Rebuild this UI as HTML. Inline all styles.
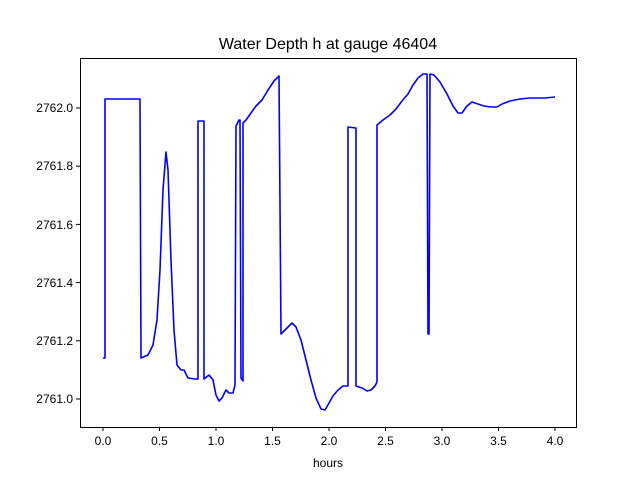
<!DOCTYPE html>
<html><head><meta charset="utf-8"><style>body{margin:0;background:#fff}svg{display:block}text{font-family:"Liberation Sans","DejaVu Sans",sans-serif;fill:#000}</style></head>
<body>
<svg width="640" height="480" viewBox="0 0 640 480">
<rect width="640" height="480" fill="#fff"/>
<text x="328" y="49" font-size="16" text-anchor="middle">Water Depth h at gauge 46404</text>
<path fill="none" stroke="#0000ff" stroke-width="1.6" stroke-linejoin="round" d="M103,358 L105,358 L105,99 L140,99 L141,358 L148,355 L153,345 L157,320 L160,270 L163,190 L166,152 L168,170 L171,260 L174,330 L177,365 L181,370 L184,370 L188,378 L195,379 L198,379 L198,121 L204,121 L204,379 L209,375 L213,380 L216,395 L219,401 L222,398 L226,390 L229,393 L233,393 L235,385 L236,126 L239,120 L240,120 L241,378 L243,381 L243,123 L246,120 L251,113 L256,106 L262,100 L268,90 L274,81 L279,76 L281,334 L287,328 L292,323 L296,327 L301,340 L306,360 L311,380 L316,398 L321,409 L325,410 L329,403 L333,396 L338,390 L343,386 L348,386 L348,127 L356,128 L356,386 L362,388 L367,391 L371,390 L375,386 L377,382 L377,125 L383,120 L390,115 L396,109 L402,101 L408,94 L413,85 L418,78 L423,74 L427,74 L428,334 L429,334 L430,74 L434,75 L440,82 L447,94 L453,106 L458,113 L462,113 L467,106 L472,102 L478,104 L484,106 L491,107 L497,107 L502,104 L510,101 L520,99 L530,98 L545,98 L555,97"/>
<rect x="80.5" y="58.5" width="496" height="369" fill="none" stroke="#000" stroke-width="1"/>
<g stroke="#000" stroke-width="1">
<line x1="103" y1="427" x2="103" y2="431"/><line x1="159.5" y1="427" x2="159.5" y2="431"/><line x1="216" y1="427" x2="216" y2="431"/><line x1="272.5" y1="427" x2="272.5" y2="431"/><line x1="329" y1="427" x2="329" y2="431"/><line x1="385.5" y1="427" x2="385.5" y2="431"/><line x1="442" y1="427" x2="442" y2="431"/><line x1="498.5" y1="427" x2="498.5" y2="431"/><line x1="555" y1="427" x2="555" y2="431"/>
<line x1="76" y1="399" x2="80" y2="399"/><line x1="76" y1="340.8" x2="80" y2="340.8"/><line x1="76" y1="282.6" x2="80" y2="282.6"/><line x1="76" y1="224.4" x2="80" y2="224.4"/><line x1="76" y1="166.2" x2="80" y2="166.2"/><line x1="76" y1="108" x2="80" y2="108"/>
</g>
<g font-size="12" text-anchor="middle">
<text x="103" y="445">0.0</text><text x="159.5" y="445">0.5</text><text x="216" y="445">1.0</text><text x="272.5" y="445">1.5</text><text x="329" y="445">2.0</text><text x="385.5" y="445">2.5</text><text x="442" y="445">3.0</text><text x="498.5" y="445">3.5</text><text x="555" y="445">4.0</text>
<text x="328" y="467">hours</text>
</g>
<g font-size="12" text-anchor="end">
<text x="73" y="403">2761.0</text><text x="73" y="345">2761.2</text><text x="73" y="287">2761.4</text><text x="73" y="229">2761.6</text><text x="73" y="170">2761.8</text><text x="73" y="112">2762.0</text>
</g>
</svg>
</body></html>
